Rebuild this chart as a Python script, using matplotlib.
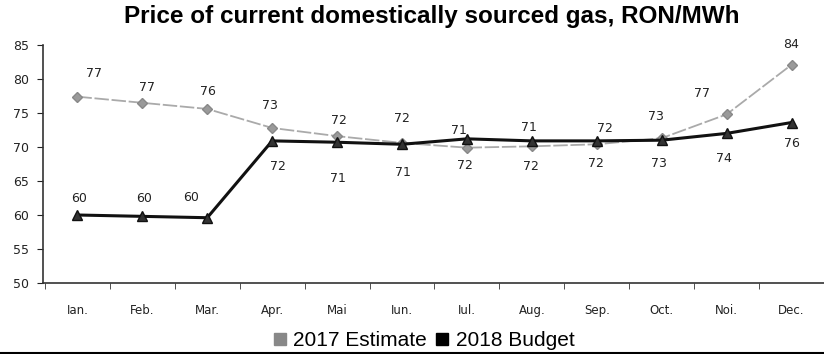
import matplotlib
matplotlib.use('Agg')
from matplotlib import pyplot as plt
from matplotlib.lines import Line2D

# data
months = ['Ian.', 'Feb.', 'Mar.', 'Apr.', 'Mai', 'Iun.', 'Iul.', 'Aug.', 'Sep.', 'Oct.', 'Noi.', 'Dec.']
est_2017 = [77.4, 76.5, 75.6, 72.8, 71.6, 70.6, 69.9, 70.1, 70.4, 71.3, 74.8, 82.1]
est_2017_labels = ['77', '77', '76', '73', '72', '72', '72', '72', '72', '73', '77', '84']
bud_2018 = [60.0, 59.8, 59.6, 70.9, 70.7, 70.4, 71.2, 70.9, 70.9, 71.0, 72.0, 73.6]
bud_2018_labels = ['60', '60', '60', '72', '71', '71', '71', '71', '72', '73', '74', '76']

# label offsets in pixels (dx, dy)
off_2017 = [(17, 23), (5, 15), (1, 17), (-2, 22), (2, 16), (0, 24),
            (-2, -18), (-1, -20), (-1, -19), (-6, 22), (-25, 21), (0, 20)]
off_2018 = [(2, 17), (2, 18), (-16, 20), (6, -26), (1, -36), (1, -28),
            (-8, 8), (-3, 13), (8, 12), (-3, -23), (-3, -25), (0, -21)]

fig = plt.figure(figsize=(8.24, 3.54), dpi=100)
ax = fig.add_axes([43/824, 71/354, 781/824, 238/354])

x = list(range(len(months)))
gray = '#9a9a9a'
ax.plot(x, est_2017, color='#aaaaaa', lw=1.3, ls=(0, (8, 1.5)), marker='D', ms=5,
        mfc=gray, mec='#888888', zorder=3)
ax.plot(x, bud_2018, color='#111111', lw=2.2, marker='^', ms=7,
        mfc='#333333', mec='#111111', zorder=4)

for i in x:
    ax.annotate(est_2017_labels[i], (i, est_2017[i]), xytext=off_2017[i], textcoords='offset pixels',
                ha='center', va='center', fontsize=9, color='#222222')
    ax.annotate(bud_2018_labels[i], (i, bud_2018[i]), xytext=off_2018[i], textcoords='offset pixels',
                ha='center', va='center', fontsize=9, color='#222222')

ax.set_xlim(-0.53, 11.34)
ax.set_ylim(50, 85)
ax.set_yticks([50, 55, 60, 65, 70, 75, 80, 85])
ax.set_xticks(x)
ax.set_xticklabels(months)
ax.set_xticks([i + 0.5 for i in range(-1, 12)], minor=True)
ax.tick_params(axis='x', which='major', length=0, pad=15, labelsize=8.5, colors='#222222')
ax.tick_params(axis='x', which='minor', length=4, direction='out', color='#333333')
ax.tick_params(axis='y', length=4, direction='out', labelsize=9, pad=6, colors='#222222')
for s in ['top', 'right']:
    ax.spines[s].set_visible(False)
ax.spines['left'].set_color('#333333')
ax.spines['bottom'].set_color('#333333')
ax.spines['left'].set_linewidth(1.2)
ax.spines['bottom'].set_linewidth(1.2)

fig.text(0.524, 0.952, 'Price of current domestically sourced gas, RON/MWh',
         ha='center', va='center', fontsize=17.5, fontweight='bold', family='Liberation Sans')

handles = [Line2D([], [], ls='none', marker='s', ms=8.5, mfc='#888888', mec='#888888'),
           Line2D([], [], ls='none', marker='s', ms=8.5, mfc='black', mec='black')]
fig.legend(handles, ['2017 Estimate', '2018 Budget'], loc='center', bbox_to_anchor=(0.514, 1 - 341/354),
           ncol=2, frameon=False, prop={'family': 'Liberation Sans', 'size': 15},
           handlelength=0.7, handletextpad=0.3, columnspacing=0.4, borderpad=0)

fig.add_artist(Line2D([0, 1], [0.004, 0.004], transform=fig.transFigure, color='black', lw=1.5))

plt.savefig('out.png', dpi=100)
